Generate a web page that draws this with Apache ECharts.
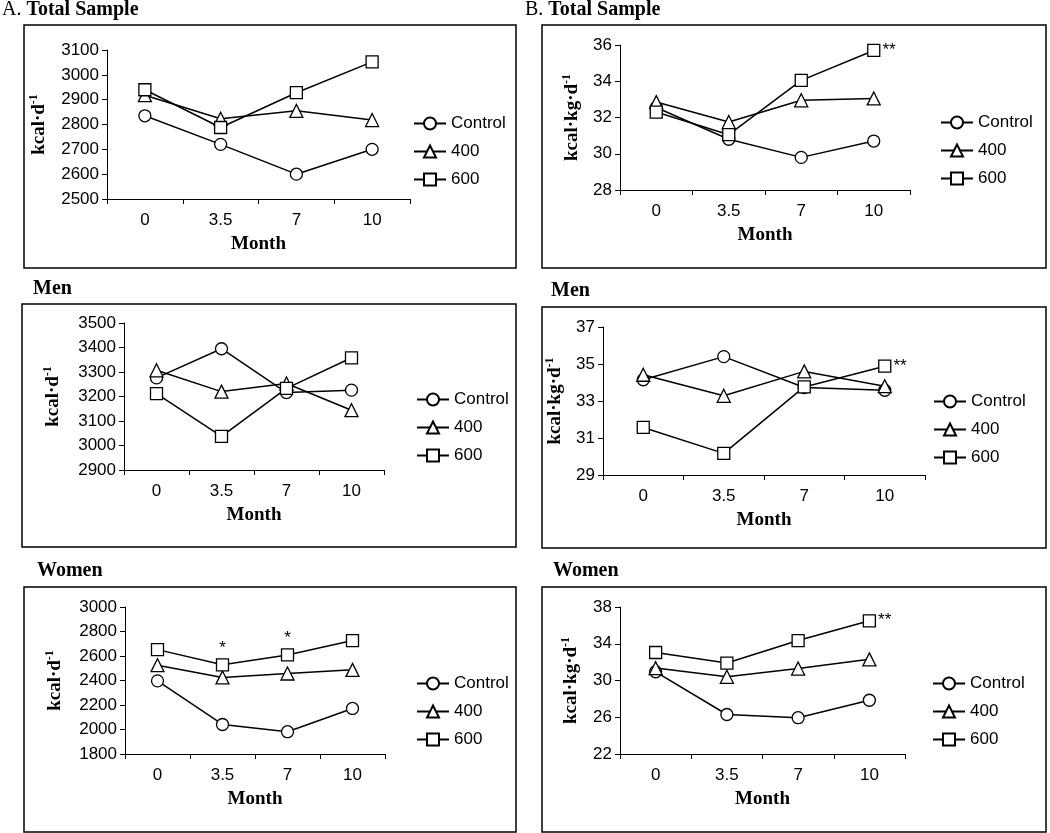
<!DOCTYPE html>
<html>
<head>
<meta charset="utf-8">
<script src="https://cdn.jsdelivr.net/npm/echarts@6/dist/echarts.min.js"></script>
<style>
html,body{margin:0;padding:0;background:#fff;}
#c{width:1050px;height:833px;}
</style>
</head>
<body>
<div id="c"></div>
<script>
// ---- data ----
const months = ['0', '3.5', '7', '10'];
const groupNames = ['Control', '400', '600'];

// A: kcal·d-1
const totalA_control = [2835, 2720, 2600, 2700];
const totalA_400 = [2918, 2823, 2855, 2818];
const totalA_600 = [2940, 2788, 2928, 3052];

const menA_control = [3276, 3395, 3216, 3226];
const menA_400 = [3307, 3220, 3253, 3144];
const menA_600 = [3212, 3037, 3233, 3358];

const womenA_control = [2397, 2041, 1982, 2172];
const womenA_400 = [2525, 2425, 2457, 2487];
const womenA_600 = [2652, 2528, 2609, 2726];

// B: kcal·kg·d-1
const totalB_control = [32.55, 30.8, 29.8, 30.7];
const totalB_400 = [32.85, 31.75, 32.95, 33.05];
const totalB_600 = [32.3, 31.05, 34.05, 35.7];

const menB_control = [34.15, 35.4, 33.73, 33.58];
const menB_400 = [34.42, 33.28, 34.6, 33.8];
const menB_600 = [31.57, 30.17, 33.76, 34.88];

const womenB_control = [30.95, 26.3, 25.95, 27.85];
const womenB_400 = [31.35, 30.4, 31.3, 32.3];
const womenB_600 = [33.05, 31.9, 34.35, 36.5];

// significance marks on the 600 series
const marksTotalB = ['', '', '', '**'];
const marksMenB = ['', '', '', '**'];
const marksWomenB = ['', '', '', '**'];
const marksWomenA = ['', '*', '*', ''];

// y-axis ranges [min, max, interval]
const yTotalA = [2500, 3100, 100];
const yMenA = [2900, 3500, 100];
const yWomenA = [1800, 3000, 200];
const yTotalB = [28, 36, 2];
const yMenB = [29, 37, 2];
const yWomenB = [22, 38, 4];

// ---- styles ----
const SANS = 'Arial, "Liberation Sans", sans-serif';
const SERIF = '"Times New Roman", "Liberation Serif", serif';

const panels = [
  {grid:{left:107, top:50, width:303, height:149}, y:yTotalA, unit:'A', nameGap:57,
   data:[totalA_control, totalA_400, totalA_600], marks:null,
   legend:{left:408, top:110}},
  {grid:{left:620, top:45, width:290, height:145}, y:yTotalB, unit:'B', nameGap:37,
   data:[totalB_control, totalB_400, totalB_600], marks:marksTotalB, markPos:'right',
   legend:{left:935, top:109}},
  {grid:{left:124, top:323, width:260, height:147}, y:yMenA, unit:'A', nameGap:60,
   data:[menA_control, menA_400, menA_600], marks:null,
   legend:{left:411, top:386}},
  {grid:{left:603, top:327, width:322, height:148}, y:yMenB, unit:'B', nameGap:37,
   data:[menB_control, menB_400, menB_600], marks:marksMenB, markPos:'right',
   legend:{left:928, top:388}},
  {grid:{left:125, top:607, width:260, height:147}, y:yWomenA, unit:'A', nameGap:59,
   data:[womenA_control, womenA_400, womenA_600], marks:marksWomenA, markPos:'top',
   legend:{left:411, top:670}},
  {grid:{left:620, top:607, width:285, height:147}, y:yWomenB, unit:'B', nameGap:38,
   data:[womenB_control, womenB_400, womenB_600], marks:marksWomenB, markPos:'right',
   legend:{left:927, top:670}}
];

const symbols = ['circle', 'triangle', 'rect'];
const symbolSizes = [12, 13, 12];

const grids = [], xAxes = [], yAxes = [], series = [], legends = [];

panels.forEach((p, i) => {
  grids.push(p.grid);
  xAxes.push({
    gridIndex: i, type: 'category', data: months, boundaryGap: true,
    axisLine: {lineStyle: {color: '#000', width: 1}},
    axisTick: {show: true, inside: false, length: 5, alignWithLabel: false, interval: 0, lineStyle: {color: '#000'}},
    axisLabel: {color: '#000', fontSize: 17, fontFamily: SANS, margin: 13, interval: 0},
    name: 'Month', nameLocation: 'middle', nameGap: 36,
    nameTextStyle: {color: '#000', fontSize: 19, fontWeight: 'bold', fontFamily: SERIF},
    splitLine: {show: false}
  });
  const nm = p.unit === 'A' ? '{t|kcal·d}{s|-1}' : '{t|kcal·kg·d}{s|-1}';
  yAxes.push({
    gridIndex: i, type: 'value', min: p.y[0], max: p.y[1], interval: p.y[2],
    axisLine: {show: true, lineStyle: {color: '#000', width: 1}},
    axisTick: {show: true, inside: false, length: 5, lineStyle: {color: '#000'}},
    axisLabel: {color: '#000', fontSize: 17, fontFamily: SANS, margin: 8,
                formatter: v => String(v)},
    splitLine: {show: false},
    name: nm, nameLocation: 'middle', nameGap: p.nameGap,
    nameTextStyle: {
      rich: {
        t: {fontSize: 19, fontWeight: 'bold', fontFamily: SERIF, color: '#000', lineHeight: 22},
        s: {fontSize: 12, fontWeight: 'bold', fontFamily: SERIF, color: '#000', verticalAlign: 'top', lineHeight: 22, padding: [0, 0, 8, 0]}
      }
    }
  });
  p.data.forEach((vals, k) => {
    let dataItems = vals.slice();
    if (k === 2 && p.marks) {
      dataItems = vals.map((v, j) => p.marks[j] ? {
        value: v,
        label: {show: true, position: p.markPos, formatter: p.marks[j], color: '#000',
                fontSize: 17, fontFamily: SANS, distance: p.markPos === 'top' ? 1 : 2}
      } : v);
    }
    series.push({
      type: 'line', name: groupNames[k], xAxisIndex: i, yAxisIndex: i,
      data: dataItems, symbol: symbols[k], symbolSize: symbolSizes[k],
      showAllSymbol: true,
      lineStyle: {color: '#000', width: 1.5},
      itemStyle: {color: '#fff', borderColor: '#000', borderWidth: 1.3},
      emphasis: {disabled: true},
      z: 2 + k
    });
  });
  legends.push({
    data: groupNames, orient: 'vertical', left: p.legend.left, top: p.legend.top,
    itemWidth: 32, itemHeight: 15, itemGap: 11, selectedMode: false,
    textStyle: {color: '#000', fontSize: 17, fontFamily: SANS}
  });
});

const boxes = [
  [24, 25, 492, 243], [542, 25, 504, 243],
  [22, 304, 494, 243], [542, 307, 504, 241],
  [24, 587, 492, 245], [542, 587, 504, 245]
];
const graphics = boxes.map(b => ({
  type: 'rect', shape: {x: b[0], y: b[1], width: b[2], height: b[3]},
  style: {fill: 'none', stroke: '#000', lineWidth: 1.5}, silent: true
}));

const titleRich = {
  n: {fontSize: 20, fontFamily: SERIF, color: '#000', fontWeight: 'normal'},
  b: {fontSize: 20, fontFamily: SERIF, color: '#000', fontWeight: 'bold'}
};
const titles = [
  {text: '{n|A. }{b|Total Sample}', left: 2, top: 0},
  {text: '{n|B. }{b|Total Sample}', left: 525, top: 0},
  {text: '{b|Men}', left: 33, top: 279},
  {text: '{b|Men}', left: 551, top: 281},
  {text: '{b|Women}', left: 37, top: 561},
  {text: '{b|Women}', left: 553, top: 561}
].map(t => Object.assign(t, {padding: 0, textStyle: {rich: titleRich}}));

const chart = echarts.init(document.getElementById('c'), null, {renderer: 'canvas'});
chart.setOption({
  backgroundColor: '#fff',
  animation: false,
  title: titles,
  legend: legends,
  grid: grids,
  xAxis: xAxes,
  yAxis: yAxes,
  series: series,
  graphic: graphics
});
</script>
</body>
</html>
